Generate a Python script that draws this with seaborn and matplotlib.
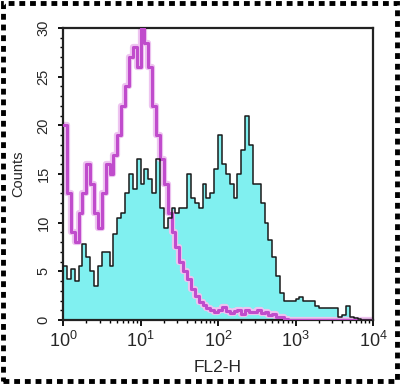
import numpy as np
import pandas as pd
import seaborn as sns
import matplotlib
matplotlib.use("Agg")
import matplotlib.pyplot as plt
from matplotlib.patches import Rectangle
from matplotlib.ticker import FixedLocator, FixedFormatter

# FL2-H channel bins: 80 bins spanning 4 decades (log10 units)
n_bins = 80
bin_centers_log = (np.arange(n_bins) + 0.5) * 4.0 / n_bins

# Isotype control (magenta)
isotype_counts = [
    20, 13, 9, 8, 11, 13, 16, 14, 11, 9.5,
    13, 16, 15, 17, 19, 22, 24, 27, 28, 26,
    30, 28.5, 26, 22, 19, 16.5, 14, 11, 9, 7.5,
    6, 5, 4.2, 3.2, 2.5, 1.8, 1.5, 1.2, 1, 0.8,
    1, 1.3, 0.9, 0.7, 0.9, 1, 0.6, 1, 0.8, 0.8,
    1, 0.7, 0.8, 0.5, 0.6, 0.3, 0.3, 0.1, 0, 0,
    0, 0, 0, 0, 0, 0, 0, 0, 0, 0,
    0, 0, 0, 0, 0, 0, 0, 0, 0, 0,
]

# Stained sample (cyan filled, black outline)
sample_counts = [
    5.5, 4.2, 5.2, 4, 5.5, 7.8, 6.5, 5, 3.5, 5.5,
    7, 7, 5.5, 8.8, 10.5, 11, 13, 15, 13.5, 16.5,
    14, 15.5, 14.5, 13, 16.5, 11.5, 9.5, 10.5, 11.5, 11,
    11.5, 11.5, 15, 12.5, 12, 11.5, 14, 12.5, 13, 15.5,
    19, 16, 15, 14, 12.5, 15, 17.5, 21, 18, 14,
    14, 12, 10, 8.2, 6.5, 4.5, 2.8, 2, 2, 2,
    2.2, 2.4, 2, 2, 2, 1.4, 1.2, 1.2, 1.2, 1.2,
    1.2, 0.3, 0.5, 1.4, 0.3, 0.2, 0.1, 0, 0, 0,
]

x_tick_labels = [r"$10^{0}$", r"$10^{1}$", r"$10^{2}$", r"$10^{3}$", r"$10^{4}$"]
y_ticks = [0, 5, 10, 15, 20, 25, 30]

df = pd.DataFrame({
    "log_fl2": bin_centers_log,
    "isotype": isotype_counts,
    "sample": sample_counts,
})

sns.set_style("white")
plt.rcParams["font.family"] = ["Liberation Sans", "DejaVu Sans"]
plt.rcParams["mathtext.fontset"] = "custom"
plt.rcParams["mathtext.rm"] = "Liberation Sans"
plt.rcParams["mathtext.it"] = "Liberation Sans"
plt.rcParams["mathtext.default"] = "regular"

fig = plt.figure(figsize=(4.0, 3.84), dpi=100)
ax = fig.add_axes([0.1575, 0.1667, 0.775, 0.7603])

hist_kw = dict(x="log_fl2", binwidth=4.0 / n_bins, binrange=(0, 4),
               element="step", ax=ax)

# cyan fill of the stained sample
sns.histplot(data=df, weights="sample", fill=True, color="#80f0f0",
             alpha=1.0, linewidth=0, zorder=1, **hist_kw)
# isotype magenta outline (with soft halo)
sns.histplot(data=df, weights="isotype", fill=False, color="#eec4f0",
             linewidth=4.5, zorder=2, **hist_kw)
sns.histplot(data=df, weights="isotype", fill=False, color="#c04ccc",
             linewidth=2.2, zorder=3, **hist_kw)
# black outline of the stained sample
sns.histplot(data=df, weights="sample", fill=False, color="#1a1a1a",
             linewidth=1.1, zorder=4, **hist_kw)

ax.set_xlim(0, 4)
ax.set_ylim(0, 30)

ax.xaxis.set_major_locator(FixedLocator([0, 1, 2, 3, 4]))
ax.xaxis.set_major_formatter(FixedFormatter(x_tick_labels))
minor_x = [k + np.log10(m) for k in range(4) for m in range(2, 10)]
ax.xaxis.set_minor_locator(FixedLocator(minor_x))
ax.yaxis.set_major_locator(FixedLocator(y_ticks))
ax.yaxis.set_minor_locator(FixedLocator(list(range(0, 31))))

ax.tick_params(axis="both", which="both", bottom=True, left=True,
               top=False, right=False)
ax.tick_params(axis="x", which="major", direction="out", length=4.5,
               width=1.3, color="black", labelsize=13, pad=3)
ax.tick_params(axis="y", which="major", direction="out", length=3.5,
               width=1.3, color="black", labelsize=10.5, pad=5.5,
               labelrotation=90)
ax.tick_params(axis="both", which="minor", direction="out", length=2.5,
               width=1.0, color="black")
for lab in ax.get_yticklabels():
    lab.set_verticalalignment("center")

for s in ax.spines.values():
    s.set_visible(True)
    s.set_color("#222222")
    s.set_linewidth(1.6)

ax.set_xlabel("FL2-H", fontsize=12.5, labelpad=7)
ax.set_ylabel("Counts", fontsize=10.5, labelpad=8)

# dotted frame around the whole figure
frame = Rectangle((0.008, 0.008), 0.984, 0.984, transform=fig.transFigure,
                  fill=False, edgecolor="black", linewidth=3.5,
                  linestyle=(0, (1.2, 1.0)))
fig.patches.append(frame)

fig.savefig("out.png", dpi=100)
